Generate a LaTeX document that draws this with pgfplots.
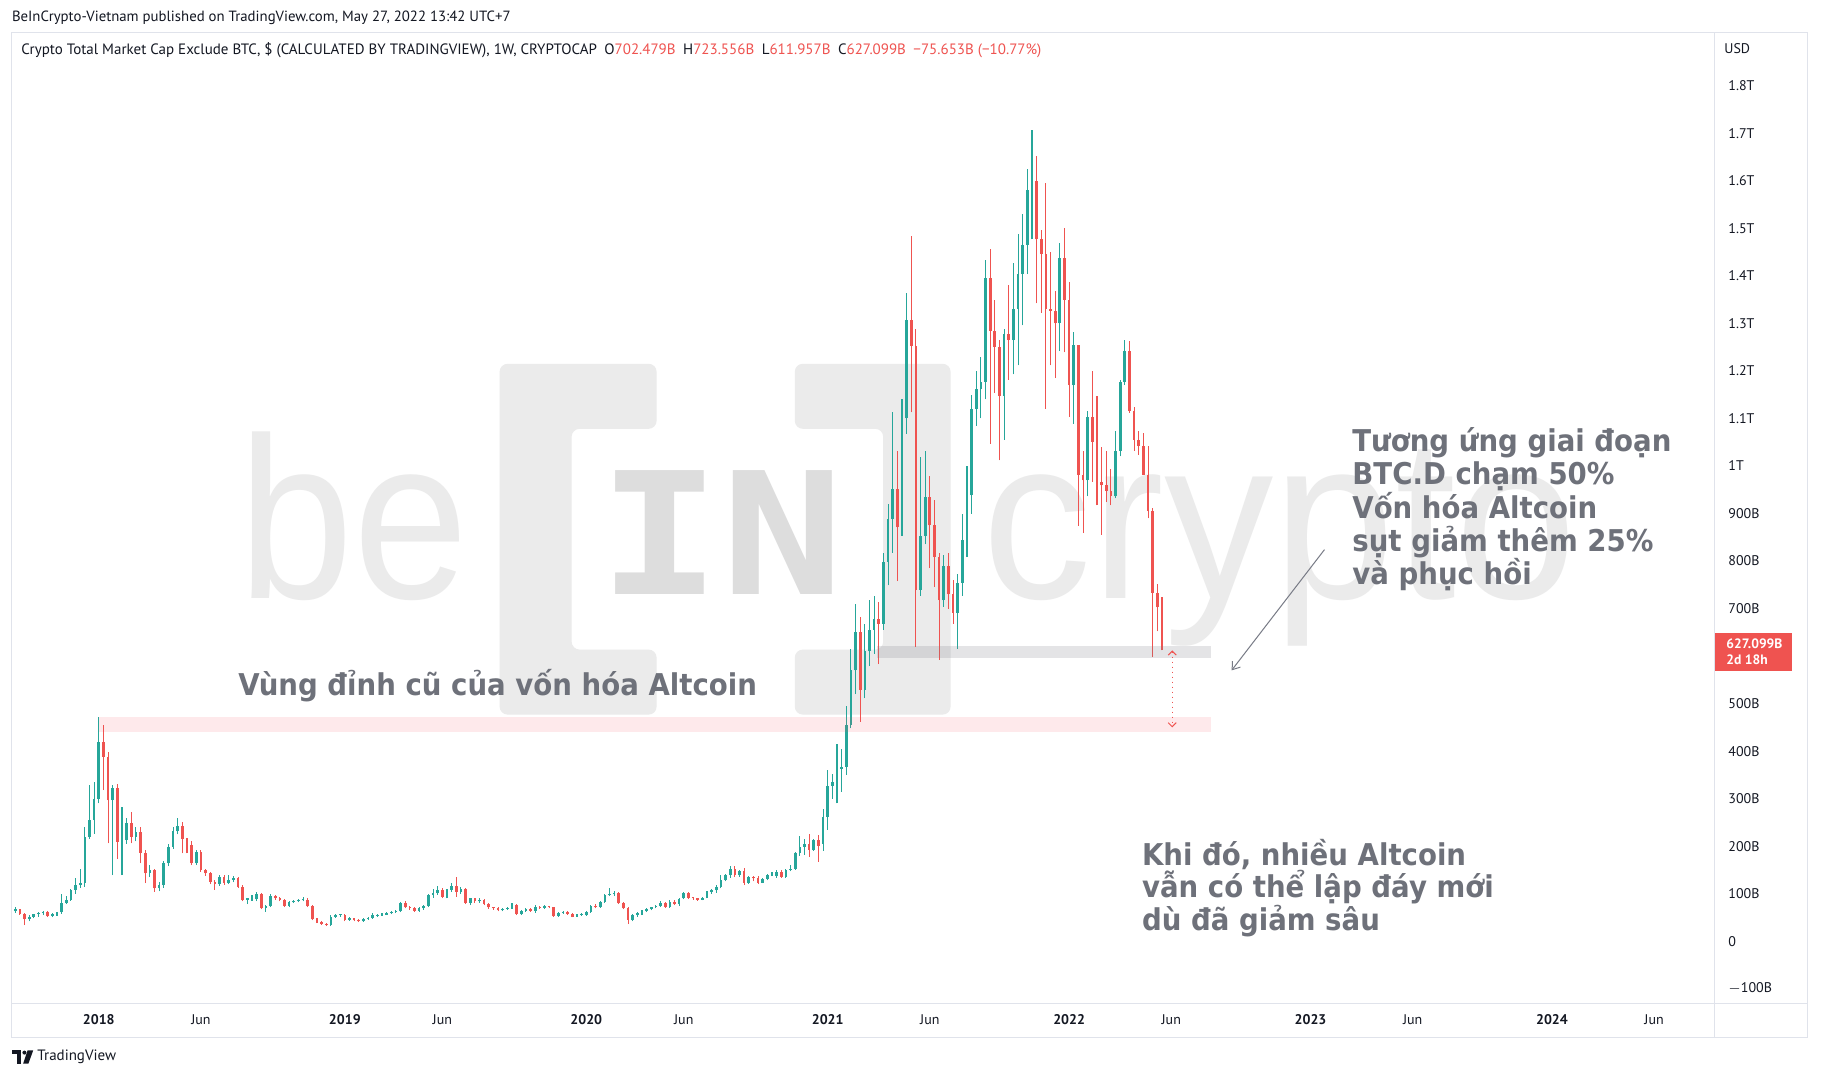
\documentclass[border=0pt]{standalone}
\usepackage{fontspec}
\setmainfont{PT Sans}
\newfontfamily\annofont[FakeStretch=0.92]{DejaVu Sans}
\newfontfamily\wmfont{Liberation Sans}
\newfontfamily\wmmono{DejaVu Sans Mono}
\usepackage{pgfplots}
\pgfplotsset{compat=1.18}
\usepackage{pgfplotstable}
\usetikzlibrary{arrows.meta}

\definecolor{bull}{HTML}{26A69A}
\definecolor{bear}{HTML}{EF5350}
\definecolor{frame}{HTML}{E0E3EB}
\definecolor{txt}{HTML}{131722}
\definecolor{annot}{HTML}{6E717A}
\definecolor{wm}{HTML}{EBEBEB}
\definecolor{wmdark}{HTML}{DDDDDD}
\definecolor{zone}{HTML}{787B86}
\definecolor{pinkz}{HTML}{F7525F}

% weekly candles, i = weeks since 1 Jan 2018, values in billion USD
\pgfplotstableread{
i o h l c
-18 63 72 60 67
-17 67 68 56 57
-16 57 59 34 46
-15 46 55 42 52
-14 52 58 48 57
-13 57 62 52 59
-12 59 64 55 62
-11 62 64 52 53
-10 53 60 50 57
-9 57 62 54 61
-8 61 100 58 80
-7 80 95 78 87
-6 87 110 85 108
-5 108 132 100 118
-4 118 153 112 122
-3 122 241 115 220
-2 220 328 215 255
-1 255 335 226 300
0 300 472 290 420
1 420 455 318 388
2 388 398 206 297
3 297 329 139 322
4 322 330 174 209
5 209 283 139 213
6 213 260 205 248
7 248 272 206 220
8 220 240 210 230
9 230 240 164 186
10 186 192 122 143
11 143 160 135 150
12 150 152 104 111
13 111 125 105 118
14 118 168 112 164
15 164 205 158 199
16 199 240 195 231
17 231 259 225 242
18 242 250 185 216
19 216 218 185 202
20 202 210 160 164
21 164 192 160 188
22 188 192 146 150
23 150 153 138 143
24 143 146 120 125
25 125 128 108 120
26 120 140 117 136
27 136 139 119 122
28 122 140 120 129
29 129 138 124 132
30 132 135 112 115
31 115 118 84 87
32 87 92 78 90
33 90 97 85 94
34 88 103 84 99
35 99 101 67 69
36 69 76 62 74
37 74 100 72 95
38 95 98 87 90
39 90 93 84 87
40 87 89 72 74
41 74 85 72 83
42 82 87 80 85
43 84 88 82 86
44 86 93 84 88
45 87 90 72 74
46 74 76 44 46
47 46 49 38 41
48 41 43 35 37
49 37 39 32 34
50 34 55 32 52
51 52 57 49 55
52 55 58 52 56
53 55 57 42 44
54 45 50 43 48
55 48 49 42 44
56 44 46 40 42
57 42 49 41 47
58 47 50 45 49
59 49 60 47 55
60 54 58 52 56
61 56 60 54 58
62 56 61 55 59
63 59 63 57 61
64 61 65 59 63
65 63 83 61 80
66 80 84 69 71
67 71 74 66 69
68 69 72 62 64
69 64 71 62 69
70 69 76 66 74
71 74 100 72 97
72 97 110 92 101
73 101 117 98 108
74 108 112 90 94
75 94 110 90 108
76 108 122 104 116
77 116 136 94 104
78 104 115 100 109
79 109 112 78 81
80 81 92 76 90
81 90 92 80 84
82 84 90 81 87
83 87 89 76 78
84 78 80 68 71
85 71 73 66 69
86 69 71 63 65
87 65 70 63 68
88 68 72 66 70
89 70 80 68 76
90 76 78 55 57
91 57 65 55 63
92 63 70 61 67
93 67 70 62 64
94 64 76 60 73
95 73 75 68 70
96 70 76 68 74
97 74 75 69 71
98 71 73 52 53
99 53 62 51 60
100 60 64 58 62
101 62 63 56 58
102 58 59 50 52
103 52 57 51 56
104 56 59 54 58
105 55 64 54 62
106 62 76 60 74
107 74 78 69 71
108 71 85 70 83
109 83 99 81 97
110 97 111 95 99
111 99 105 95 101
112 101 103 78 80
113 80 82 67 69
114 69 72 36 45
115 45 57 42 55
116 55 62 52 60
117 58 65 55 63
118 63 69 61 67
119 67 73 65 71
120 71 76 69 74
121 74 85 72 80
122 80 83 70 72
123 72 86 70 83
124 83 86 76 78
125 78 92 74 88
126 90 104 88 101
127 101 103 89 92
128 92 94 87 90
129 90 92 85 87
130 87 94 86 92
131 92 106 90 104
132 104 110 100 107
133 107 118 102 115
134 115 140 111 129
135 129 142 126 139
136 139 158 134 153
137 153 158 135 139
138 139 150 136 148
139 148 155 118 123
140 123 138 121 136
141 136 138 126 132
142 132 137 120 123
143 123 134 122 131
144 131 141 128 139
145 139 146 137 143
146 137 149 134 146
147 146 149 134 136
148 136 152 134 150
149 150 160 147 153
150 153 188 150 185
151 185 222 180 199
152 199 216 182 205
153 205 225 178 193
154 193 215 190 212
155 212 223 167 201
156 205 278 190 262
157 262 360 235 327
158 327 352 300 336
159 336 415 290 363
160 363 405 315 367
161 367 495 350 455
162 455 615 448 570
163 570 709 520 650
164 650 682 462 529
165 529 668 511 610
166 610 718 579 655
167 655 727 605 677
168 677 713 583 668
169 668 817 655 799
170 799 920 749 889
171 889 1113 817 952
172 952 1032 758 871
173 871 1140 853 1100
174 1100 1365 1068 1307
175 1307 1484 1113 1253
176 1253 1289 619 740
177 740 1019 727 853
178 853 1032 835 934
179 934 979 785 875
180 875 929 745 808
181 808 817 592 718
182 718 812 704 790
183 790 817 700 730
184 730 760 668 691
185 691 772 615 754
186 754 898 727 844
187 844 1001 808 938
188 938 1149 900 1120
189 1120 1200 1085 1162
190 1162 1230 1100 1177
191 1177 1434 1140 1396
192 1396 1457 1047 1285
193 1285 1350 1154 1250
194 1250 1266 1012 1147
195 1147 1289 1055 1277
196 1277 1381 1181 1266
197 1266 1427 1193 1331
198 1331 1488 1212 1404
199 1404 1530 1296 1465
200 1465 1626 1404 1580
201 1580 1707 1477 1599
202 1599 1653 1342 1477
203 1477 1496 1323 1446
204 1446 1595 1120 1331
205 1331 1450 1212 1327
206 1327 1369 1185 1300
207 1300 1469 1243 1438
208 1438 1500 1239 1350
209 1350 1388 1104 1170
210 1170 1281 1089 1254
211 1254 1254 874 982
212 982 1032 859 970
213 970 1116 936 1104
214 1104 1200 967 1051
215 1051 1147 917 966
216 966 1039 855 959
217 959 1032 924 947
218 947 993 917 936
219 936 1074 932 1032
220 1032 1181 1020 1177
221 1177 1266 1170 1243
222 1243 1262 1112 1116
223 1116 1124 1032 1055
224 1055 1074 1024 1043
225 1043 1070 982 982
226 982 1043 890 905
227 905 912 598 733
228 733 752 652 702.752
229 702.479 723.556 611.957 627.099
}\ohlc

\begin{document}
\begin{tikzpicture}
\path[use as bounding box] (0pt,0pt) rectangle (911pt,-540pt);
\fill[white] (0pt,0pt) rectangle (911pt,-540pt);

% watermark
\node[anchor=base west, inner sep=0pt, text=wm, font=\wmfont\fontsize{115}{115}\selectfont, xscale=0.9] at (119pt,-299.2pt) {be};
\fill[wm, rounded corners=4pt] (249.8pt,-181.9pt) -- (328.3pt,-181.9pt) -- (328.3pt,-214.4pt) -- (285.8pt,-214.4pt) -- (285.8pt,-324.8pt) -- (328.3pt,-324.8pt) -- (328.3pt,-357.3pt) -- (249.8pt,-357.3pt) -- cycle;
\fill[wm, rounded corners=4pt] (397.4pt,-181.9pt) -- (475.3pt,-181.9pt) -- (475.3pt,-357.3pt) -- (397.4pt,-357.3pt) -- (397.4pt,-324.8pt) -- (441.6pt,-324.8pt) -- (441.6pt,-214.4pt) -- (397.4pt,-214.4pt) -- cycle;
\node[anchor=base west, inner sep=0pt, text=wmdark, font=\wmmono\bfseries\fontsize{85}{85}\selectfont, xscale=1.2] at (299pt,-297.5pt) {IN};
\node[anchor=base west, inner sep=0pt, text=wm, font=\wmfont\fontsize{115}{115}\selectfont, xscale=0.95] at (491pt,-299.2pt) {crypto};

\begin{axis}[
  at={(5.8pt,-501.5pt)}, anchor=south west,
  width=851.2pt, height=485.2pt, scale only axis,
  xmin=-18.78, xmax=347.9, ymin=-130, ymax=1912,
  axis line style={draw=none},
  major tick length=0pt,
  ytick={-100,0,100,200,300,400,500,700,800,900,1000,1100,1200,1300,1400,1500,1600,1700,1800},
  yticklabels={$-$100B,0,100B,200B,300B,400B,500B,700B,800B,900B,1T,1.1T,1.2T,1.3T,1.4T,1.5T,1.6T,1.7T,1.8T},
  yticklabel pos=right,
  yticklabel style={anchor=west, inner sep=0pt, xshift=7pt},
  xtick={0,22,53,74,105,126,157,179,209,231,261,283,313,335},
  xticklabels={\bfseries 2018,Jun,\bfseries 2019,Jun,\bfseries 2020,Jun,\bfseries 2021,Jun,\bfseries 2022,Jun,\bfseries 2023,Jun,\bfseries 2024,Jun},
  xticklabel style={anchor=center, inner sep=0pt, yshift=-8.5pt},
  ticklabel style={font=\fontsize{7}{8}\selectfont, text=txt},
]
% wicks
\addplot[draw=none, mark=none, forget plot, unbounded coords=discard,
  error bars/.cd, y dir=plus, y explicit, error mark=none,
  error bar style={line width=0.55pt, draw=bull}]
  table[x=i, y expr={\thisrow{c}>=\thisrow{o} ? \thisrow{l} : nan},
        y error plus expr={\thisrow{h}-\thisrow{l}}] {\ohlc};
\addplot[draw=none, mark=none, forget plot, unbounded coords=discard,
  error bars/.cd, y dir=plus, y explicit, error mark=none,
  error bar style={line width=0.55pt, draw=bear}]
  table[x=i, y expr={\thisrow{c}<\thisrow{o} ? \thisrow{l} : nan},
        y error plus expr={\thisrow{h}-\thisrow{l}}] {\ohlc};
% bodies
\addplot[draw=none, mark=none, forget plot, unbounded coords=discard,
  error bars/.cd, y dir=plus, y explicit, error mark=none,
  error bar style={line width=1.35pt, draw=bull}]
  table[x=i, y expr={\thisrow{c}>=\thisrow{o} ? \thisrow{o} : nan},
        y error plus expr={max(\thisrow{c}-\thisrow{o},2.2)}] {\ohlc};
\addplot[draw=none, mark=none, forget plot, unbounded coords=discard,
  error bars/.cd, y dir=plus, y explicit, error mark=none,
  error bar style={line width=1.35pt, draw=bear}]
  table[x=i, y expr={\thisrow{c}<\thisrow{o} ? \thisrow{c} : nan},
        y error plus expr={max(\thisrow{o}-\thisrow{c},2.2)}] {\ohlc};

% zones and arrows
\fill[zone, fill opacity=0.2] (axis cs:167.7,597) rectangle (axis cs:239.5,621);
\fill[pinkz, fill opacity=0.12] (axis cs:0,440) rectangle (axis cs:239.5,472);
\draw[zone, line width=0.5pt, -{Straight Barb[length=3.5pt,width=5pt]}] (axis cs:264,824) -- (axis cs:244,570);
\draw[bear, line width=0.5pt, dotted, {Straight Barb[length=2pt,width=4pt]}-{Straight Barb[length=2pt,width=4pt]}] (axis cs:231.2,612) -- (axis cs:231.2,450);
\end{axis}

% frame
\draw[frame, line width=0.5pt] (5.8pt,-16.3pt) rectangle (903.5pt,-518.8pt);
\draw[frame, line width=0.5pt] (857pt,-16.3pt) -- (857pt,-518.8pt);
\draw[frame, line width=0.5pt] (5.8pt,-501.5pt) -- (903.5pt,-501.5pt);

% last price label
\fill[bear] (857.5pt,-316.6pt) rectangle (896pt,-335.3pt);
\node[anchor=west, inner sep=0pt, text=white, font=\bfseries\fontsize{6.8}{8}\selectfont] at (863pt,-321.9pt) {627.099B};
\node[anchor=west, inner sep=0pt, text=white, font=\bfseries\fontsize{6.8}{8}\selectfont] at (863pt,-330pt) {2d 18h};
\node[anchor=west, inner sep=0pt, text=txt, font=\fontsize{7}{8}\selectfont] at (862pt,-24.4pt) {USD};

% header
\node[anchor=west, inner sep=0pt, text=txt, font=\fontsize{7.4}{8}\selectfont] at (5.8pt,-8.7pt) {BeInCrypto-Vietnam published on TradingView.com, May 27, 2022 13:42 UTC+7};
\node[anchor=west, inner sep=0pt, text=txt, font=\fontsize{7.5}{8}\selectfont] at (10.5pt,-25pt) {Crypto Total Market Cap Exclude BTC, \$ (CALCULATED BY TRADINGVIEW), 1W, CRYPTOCAP\enspace O\textcolor{bear}{702.479B}\enspace H\textcolor{bear}{723.556B}\enspace L\textcolor{bear}{611.957B}\enspace C\textcolor{bear}{627.099B}\enspace\textcolor{bear}{−75.653B (−10.77\%)}};

% annotations
\begin{scope}[every node/.style={anchor=base west, inner sep=0pt, text=annot, font=\annofont\bfseries\fontsize{15}{16}\selectfont}]
\node at (119pt,-348pt) {Vùng đỉnh cũ của vốn hóa Altcoin};
\node at (676pt,-225.8pt) {Tương ứng giai đoạn};
\node at (676pt,-242.5pt) {BTC.D chạm 50\%};
\node at (676pt,-259.1pt) {Vốn hóa Altcoin};
\node at (676pt,-275.8pt) {sụt giảm thêm 25\%};
\node at (676pt,-292.4pt) {và phục hồi};
\node at (570.8pt,-432.5pt) {Khi đó, nhiều Altcoin};
\node at (570.8pt,-448.7pt) {vẫn có thể lập đáy mới};
\node at (570.8pt,-465pt) {dù đã giảm sâu};
\end{scope}

% footer logo
\fill[txt] (5.8pt,-525.2pt) rectangle (10.6pt,-527.2pt);
\fill[txt] (8.4pt,-527.2pt) rectangle (10.6pt,-531.8pt);
\fill[txt] (12.2pt,-526.3pt) circle (1pt);
\fill[txt] (13.8pt,-525.2pt) -- (16.6pt,-525.2pt) -- (14.2pt,-531.8pt) -- (11.6pt,-531.8pt) -- cycle;
\node[anchor=west, inner sep=0pt, text=txt, font=\fontsize{7.5}{8}\selectfont] at (18.5pt,-528.6pt) {TradingView};
\end{tikzpicture}
\end{document}
